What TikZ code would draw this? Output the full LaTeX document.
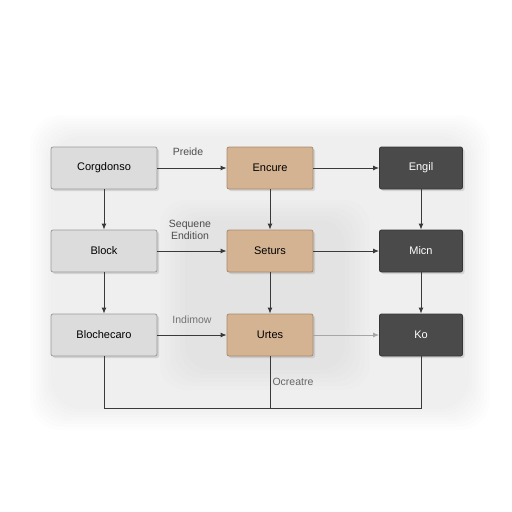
\documentclass[tikz,border=0pt]{standalone}
\usepackage{fontspec}
\setmainfont{Liberation Sans}
\usetikzlibrary{arrows.meta,shadows}
\definecolor{lightbox}{HTML}{DCDCDC}
\definecolor{lightedge}{HTML}{9A9A9A}
\definecolor{tanbox}{HTML}{D4B393}
\definecolor{tanedge}{HTML}{A88A6C}
\definecolor{darkbox}{HTML}{4A4A4A}
\definecolor{darkedge}{HTML}{353535}
\definecolor{linecol}{HTML}{3A3A3A}
\begin{document}
\begin{tikzpicture}[x=1pt,y=-1pt,
  base/.style={rounded corners=2pt,minimum width=#1,minimum height=42pt,font=\fontsize{11}{13}\selectfont,line width=0.8pt,drop shadow={shadow xshift=2pt,shadow yshift=-2pt,opacity=0.25}},
  lightnode/.style={base=106pt,fill=lightbox,draw=lightedge,text=black},
  tannode/.style={base=86pt,fill=tanbox,draw=tanedge,text=black},
  darknode/.style={base=83pt,fill=darkbox,draw=darkedge,text=white},
  conn/.style={draw=linecol,line width=1pt,-{Latex[length=6pt,width=5pt]}},
  plain/.style={draw=linecol,line width=1pt},
  lbl/.style={font=\fontsize{10.5}{12.5}\selectfont,text=black!70}]
\useasboundingbox (0,0) rectangle (512,512);
\fill[white] (0,0) rectangle (512,512);
\foreach \i in {0,...,7} {
  \fill[black,opacity=0.006,rounded corners=30pt] (30+\i*3,115+\i*3) rectangle (490-\i*3,430-\i*3);
}
\foreach \i in {0,...,5} {
  \fill[black,opacity=0.007,rounded corners=25pt] (160+\i*5,200+\i*4) rectangle (370-\i*5,390-\i*4);
}

\node[lightnode] (a1) at (104,168) {Corgdonso};
\node[lightnode] (a2) at (104,251) {Block};
\node[lightnode] (a3) at (104,335) {Blochecaro};
\node[tannode] (b1) at (270,168) {Encure};
\node[tannode] (b2) at (270,251) {Seturs};
\node[tannode] (b3) at (270,335) {Urtes};
\node[darknode] (c1) at (421,168) {Engil};
\node[darknode] (c2) at (421,251) {Micn};
\node[darknode] (c3) at (421,335) {Ko};

\draw[conn] (a1) -- (a2);
\draw[conn] (a2) -- (a3);
\draw[conn] (b1) -- (b2);
\draw[conn] (b2) -- (b3);
\draw[conn] (c1) -- (c2);
\draw[conn] (c2) -- (c3);
\draw[conn] (a1) -- (b1);
\draw[conn] (a2) -- (b2);
\draw[conn] (a3) -- (b3);
\draw[conn] (b1) -- (c1);
\draw[conn] (b2) -- (c2);
\draw[conn,draw=gray!70] (b3) -- (c3);

\coordinate (ja) at (104,408);
\coordinate (jb) at (270,408);
\coordinate (jc) at (421,408);
\draw[plain] (a3.south) -- (ja) -- (jc) -- (c3.south);
\draw[plain] (b3.south) -- (jb);

\node[lbl] (l1) at (188,152) {Preide};
\node[lbl,align=center] (l2) at (190,230) {Sequene\\Endition};
\node[lbl,text=black!55] (l3) at (192,320) {Indimow};
\node[lbl,text=black!60] (l4) at (293,382) {Ocreatre};
\end{tikzpicture}
\end{document}
